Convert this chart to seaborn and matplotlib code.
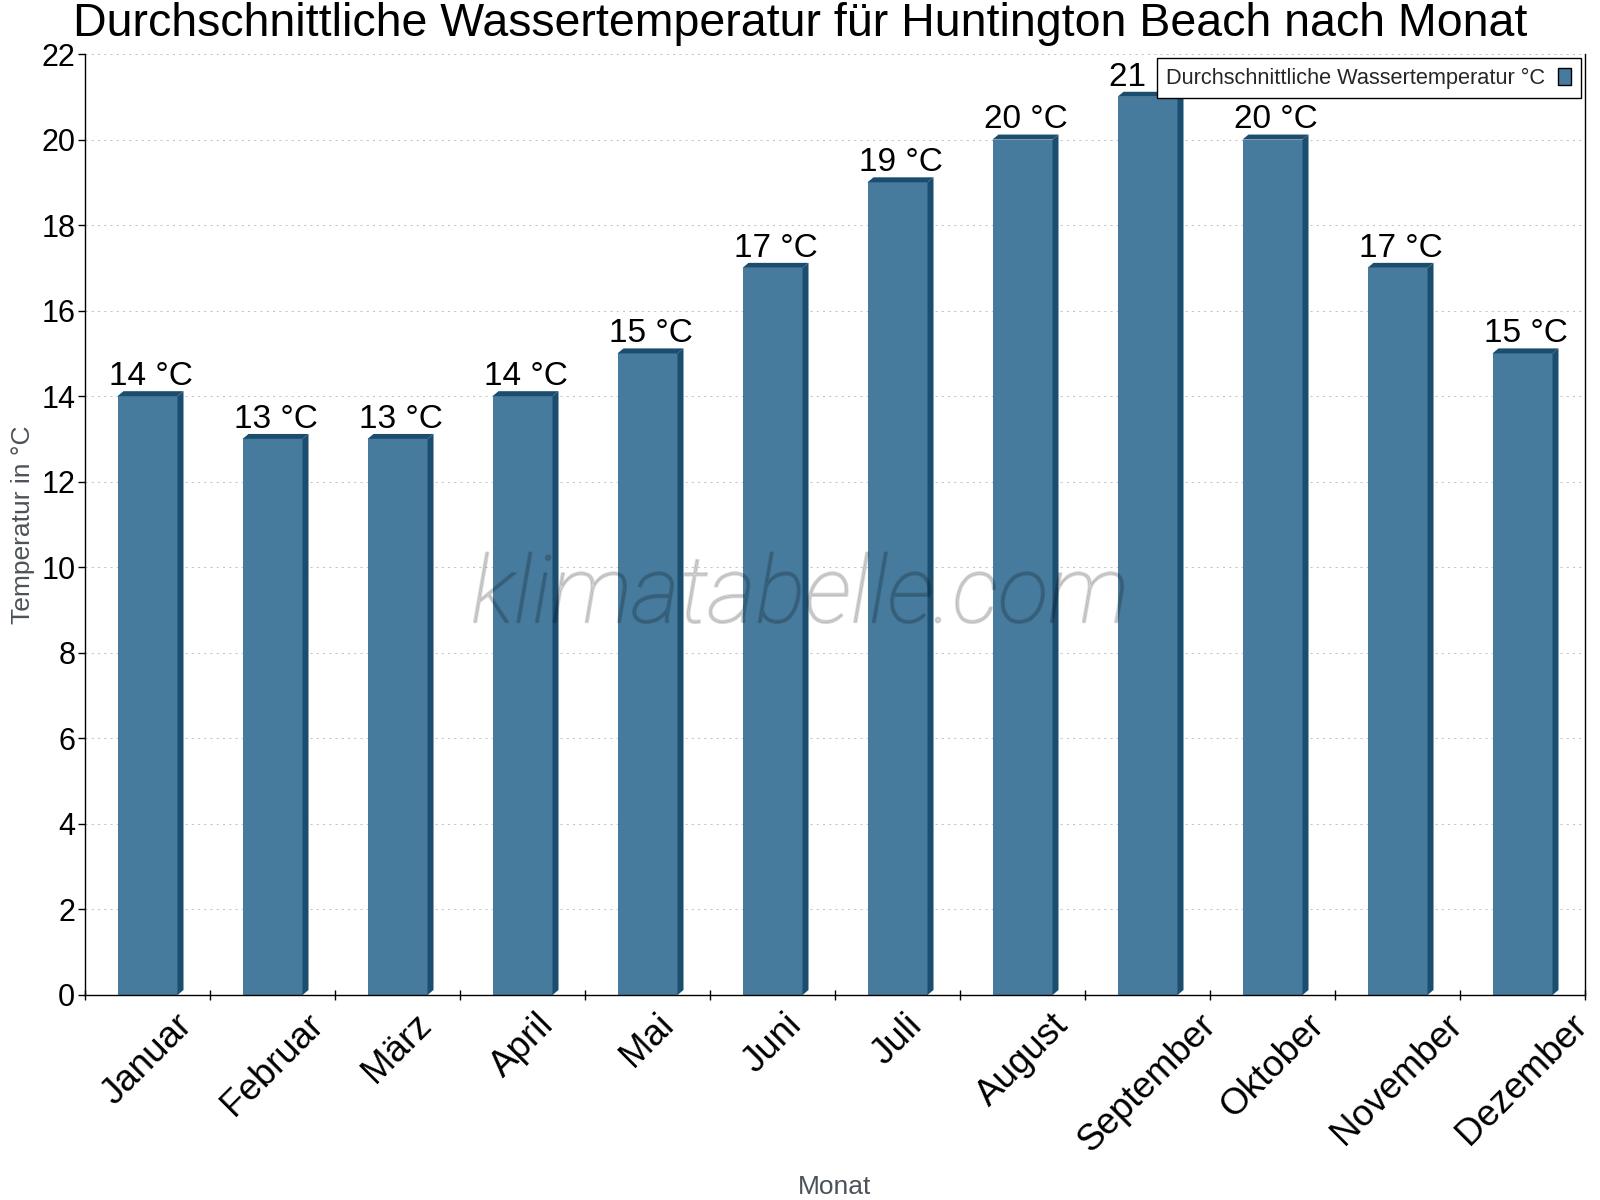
import numpy as np
import matplotlib
matplotlib.use("Agg")
import matplotlib.pyplot as plt
import matplotlib.patheffects as pe
from matplotlib.patches import Polygon, Patch
import seaborn as sns

# data
months = ["Januar", "Februar", "März", "April", "Mai", "Juni", "Juli",
          "August", "September", "Oktober", "November", "Dezember"]
water_temp = [14, 13, 13, 14, 15, 17, 19, 20, 21, 20, 17, 15]
y_ticks = list(range(0, 23, 2))

title = "Durchschnittliche Wassertemperatur für Huntington Beach nach Monat"
series_name = "Durchschnittliche Wassertemperatur °C"

FRONT = "#467b9d"
DARK = "#1b4d6e"
GREY_TXT = "#4b5259"

sns.set_style("white")
plt.rcParams["font.family"] = ["Liberation Sans", "DejaVu Sans"]

fig = plt.figure(figsize=(16, 12), dpi=100)
ax = fig.add_axes([85 / 1600, 1 - 995 / 1200, 1500 / 1600, 941 / 1200])

sns.barplot(x=months, y=water_temp, color=FRONT, saturation=1, width=0.48,
            linewidth=0, ax=ax, zorder=2)

ax.set_xlim(-0.5, len(months) - 0.5)
ax.set_ylim(0, 22)
ax.set_yticks(y_ticks)
ax.set_axisbelow(True)
ax.yaxis.grid(True, linestyle=(0, (2, 4)), color="#c4c4c4", linewidth=0.75)
ax.xaxis.grid(False)

# fake 3D: side and top faces, depth given in pixels
inv = ax.transData.inverted()
p0 = inv.transform((0, 0))
p1 = inv.transform((6, 5))
dx, dy = p1 - p0
for bar, val in zip(ax.patches, water_temp):
    x0, w, h = bar.get_x(), bar.get_width(), bar.get_height()
    side = [(x0 + w, 0), (x0 + w + dx, dy), (x0 + w + dx, h + dy), (x0 + w, h)]
    top = [(x0, h), (x0 + dx, h + dy), (x0 + w + dx, h + dy), (x0 + w, h)]
    ax.add_patch(Polygon(side, closed=True, facecolor=DARK, edgecolor="none", zorder=2))
    ax.add_patch(Polygon(top, closed=True, facecolor=DARK, edgecolor="none", zorder=2))
    ax.annotate(f"{val} °C", xy=(x0 + (w + dx) / 2, h), xytext=(0, 8),
                textcoords="offset points", ha="center", va="baseline",
                fontsize=24, color="black", zorder=3)

# spines
for side_name in ["left", "bottom", "right"]:
    ax.spines[side_name].set_visible(True)
    ax.spines[side_name].set_color("black")
    ax.spines[side_name].set_linewidth(1)
ax.spines["top"].set_visible(False)

# ticks
ax.set_xticks(np.arange(-0.5, len(months), 1), minor=True)
ax.tick_params(axis="x", which="minor", direction="inout", length=7, width=1,
               color="black", bottom=True)
ax.tick_params(axis="x", which="major", length=0, pad=9, labelsize=26.5,
               labelcolor="black")
for lbl in ax.get_xticklabels():
    lbl.set_rotation(45)
    lbl.set_ha("center")
    lbl.set_va("top")
ax.tick_params(axis="y", which="major", direction="out", length=5, width=1,
               pad=2, labelsize=22, labelcolor="black", color="black", left=True)

ax.set_xlabel("")
ax.set_ylabel("Temperatur in °C", fontsize=19, color=GREY_TXT)
ax.yaxis.set_label_coords(-0.033, 0.5)
fig.text(835 / 1600, 1 - 1194 / 1200, "Monat", fontsize=19, color=GREY_TXT,
         ha="center", va="baseline")

fig.text(0.5, 1 - 36 / 1200, title, fontsize=33.5, color="black",
         ha="center", va="baseline")

leg = ax.legend(handles=[Patch(facecolor=FRONT, edgecolor="black", linewidth=1)],
                labels=[series_name], loc="upper right", markerfirst=False,
                fancybox=False, framealpha=1, edgecolor="black", fontsize=15.7,
                borderaxespad=0.2, borderpad=0.42, handlelength=0.6,
                handleheight=0.85, handletextpad=0.6)
leg.get_frame().set_linewidth(1.0)
leg.set_zorder(6)

# watermark (light italic, thickened a little with a stroke)
fig.text(0.5, 1 - 597 / 1200, "klimatabelle.com", fontfamily="Roboto",
         fontstyle="italic", fontweight="light", fontsize=67, color="black",
         alpha=0.14, ha="center", va="center", zorder=10,
         path_effects=[pe.Stroke(linewidth=1.4, foreground="black")])

fig.savefig("out.png", dpi=100)
